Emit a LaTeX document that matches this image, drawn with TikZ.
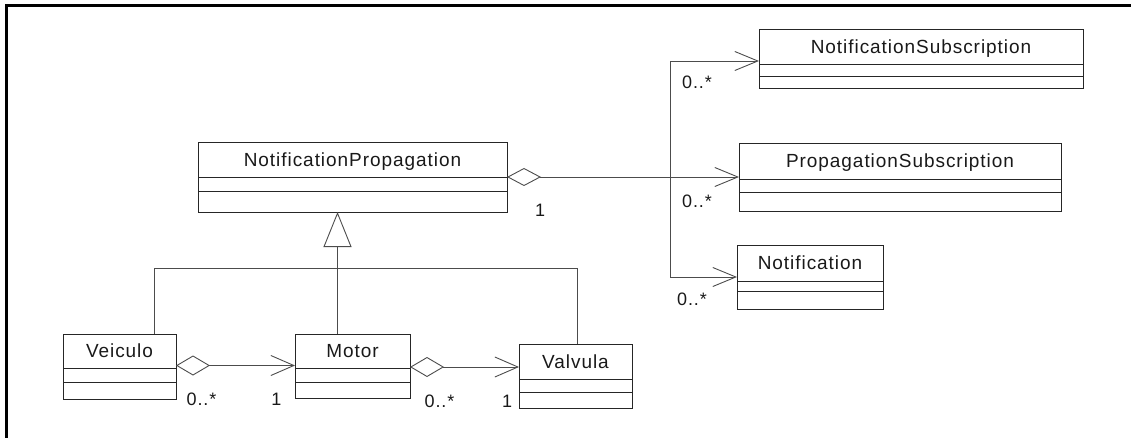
\documentclass[tikz,border=0pt]{standalone}
\usepackage{fontspec}
\setmainfont{Liberation Sans}
\newfontfamily\umlfont[LetterSpace=5]{Liberation Sans}
\usetikzlibrary{arrows.meta}

\tikzset{
  x=1pt, y=-1pt,
  clsname/.style={draw=black!85, line width=0.9pt, inner sep=0pt, outer sep=0pt,
    font=\umlfont\fontsize{19}{22}\selectfont, text=black!90,
    text height=13.6pt, text depth=0pt},
  clspart/.style={draw=black!85, line width=0.9pt, inner sep=0pt, outer sep=0pt},
  conn/.style={draw=black!70, line width=0.9pt},
  barb/.style={-{Straight Barb[length=23pt, width=19pt]}},
  agg/.style={conn, {Diamond[open, length=34pt, width=20pt]}-{Straight Barb[length=23pt, width=20pt]}},
  mult/.style={font=\umlfont\fontsize{18}{20}\selectfont, text=black!90, inner sep=0pt,
    text height=12.9pt, text depth=0pt}
}

% class box: name, left, top, width, name height, attribute height, operation height, title
\newcommand\umlclass[8]{%
  \node[clsname, minimum width=#4pt, minimum height=#5pt, anchor=north west] (#1) at (#2,#3) {#8};
  \node[clspart, minimum width=#4pt, minimum height=#6pt, anchor=north] (#1-a) at (#1.south) {};
  \node[clspart, minimum width=#4pt, minimum height=#7pt, anchor=north] (#1-o) at (#1-a.south) {};
}

\begin{document}
\begin{tikzpicture}
  \useasboundingbox (0,0) rectangle (1131,438);

  % sheet frame (top and left edges)
  \draw[line width=3.3pt] (6.5,438) -- (6.5,5.7) -- (1131,5.7);

  % classes
  \umlclass{np}{198}{142}{309}{35}{14}{21}{NotificationPropagation}
  \umlclass{notifsub}{759}{29}{324}{35}{12}{12}{NotificationSubscription}
  \umlclass{propsub}{739}{143}{322}{36}{13}{19}{PropagationSubscription}
  \umlclass{notif}{737}{245}{146}{36}{10}{18}{Notification}
  \umlclass{veiculo}{63}{334}{113}{34}{14}{17}{Veiculo}
  \umlclass{motor}{295}{334}{115}{34}{14}{16}{Motor}
  \umlclass{valvula}{519}{344}{113}{35}{13}{16}{Valvula}

  % generalization
  \coordinate (gen) at (337.5,268);
  \draw[conn, -{Triangle[open, length=35pt, width=28pt]}] (gen) -- (gen |- np-o.south);
  \draw[conn] ([xshift=34.5pt]veiculo.north) |- ([xshift=1.5pt]valvula.north |- gen)
              -- ([xshift=1.5pt]valvula.north);
  \draw[conn] (motor.north -| gen) -- (gen);

  % aggregation of the subscriptions and notifications
  \coordinate (bus) at (670,177);
  \draw[conn, {Diamond[open, length=34pt, width=18pt]}-{Straight Barb[length=23pt, width=19pt]}]
    (np.south east) -- ([yshift=2pt]propsub.south west);
  \draw[conn, barb] (bus) |- ([yshift=3pt]notifsub.south west);
  \draw[conn, barb] (bus) |- ([yshift=4pt]notif.south west);

  % aggregations between the parts
  \draw[agg] ([yshift=2.5pt]veiculo.south east) -- ([yshift=2.5pt]veiculo.south east -| motor.west);
  \draw[agg] ([yshift=1pt]motor.south east) -- ([yshift=1pt]motor.south east -| valvula.west);

  % multiplicities
  \node[mult] (m-np) at (540,210) {1};
  \node[mult] (m-ns) at (697,82.5) {0..*};
  \node[mult] (m-ps) at (697,201) {0..*};
  \node[mult] (m-n) at (692,299) {0..*};
  \node[mult] (m-v) at (201.5,399.5) {0..*};
  \node[mult] (m-m1) at (276.5,399.5) {1};
  \node[mult] (m-m2) at (439.5,401) {0..*};
  \node[mult] (m-va) at (507,401) {1};
\end{tikzpicture}
\end{document}
